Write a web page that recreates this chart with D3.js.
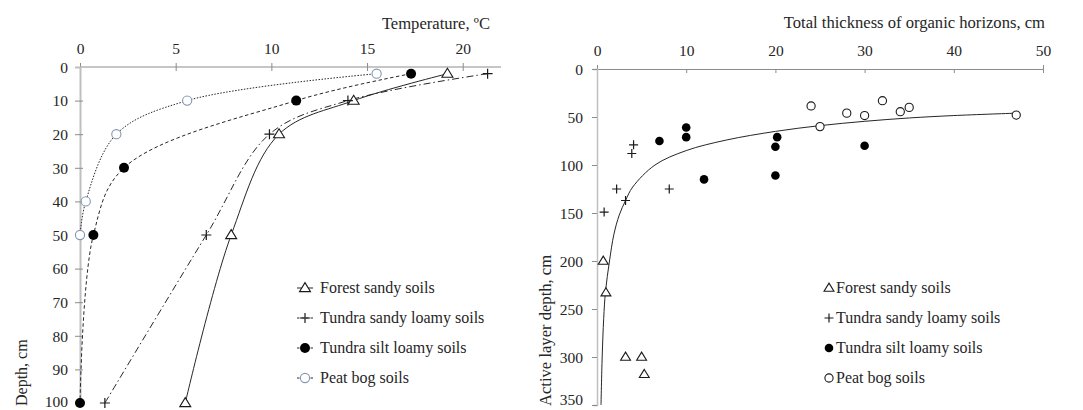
<!DOCTYPE html>
<html>
<head>
<meta charset="utf-8">
<script src="https://cdn.jsdelivr.net/npm/d3@7"></script>
<style>
  body { margin: 0; background: #fff; }
  svg { display: block; font-family: "Liberation Serif", "DejaVu Serif", serif; }
  .tick text { font-family: "Liberation Serif", "DejaVu Serif", serif; font-size: 15.5px; fill: #262626; }
  .lbl { font-size: 16px; fill: #262626; }
  .ttl { font-size: 16.6px; fill: #262626; }
</style>
</head>
<body>
<svg id="chart" width="1083" height="410"></svg>
<script>
// ---- left panel: temperature profiles ----
var tempTicks = [0, 5, 10, 15, 20];
var depthTicks = [0, 10, 20, 30, 40, 50, 60, 70, 80, 90, 100];

var forestDepth = [2, 10, 20, 50, 100];
var forestTemp = [19.2, 14.3, 10.4, 7.9, 5.5];
var sandyDepth = [2, 10, 20, 50, 100];
var sandyTemp = [21.3, 14.0, 9.9, 6.6, 1.3];
var siltDepth = [2, 10, 30, 50, 100];
var siltTemp = [17.3, 11.3, 2.3, 0.7, 0];
var peatDepth = [2, 10, 20, 40, 50];
var peatTemp = [15.5, 5.6, 1.9, 0.3, 0];

var legendNames = ["Forest sandy soils", "Tundra sandy loamy soils", "Tundra silt loamy soils", "Peat bog soils"];

// ---- right panel: organic horizons vs active layer ----
var orgTicks = [0, 10, 20, 30, 40, 50];
var aldTicks = [0, 50, 100, 150, 200, 250, 300, 350];

var forestOrg = [0.7, 1.0, 3.2, 5.0, 5.3];
var forestAld = [200, 233, 300, 300, 318];
var sandyOrg = [4.1, 3.9, 2.2, 8.1, 3.2, 0.8];
var sandyAld = [79, 88, 125, 125, 137, 149];
var siltOrg = [7.0, 10, 10, 12, 20, 20, 20.2, 30];
var siltAld = [75, 71, 61, 115, 111, 81, 71, 80];
var peatOrg = [24, 25, 28, 30, 32, 34, 35, 47];
var peatAld = [38.5, 60, 46, 48.5, 33, 44.5, 40, 48];

// trend line
var trendOrg = [0.45, 0.58, 0.75, 0.95, 1.4, 1.9, 2.5, 3.2, 4.0, 6.5, 10, 14.5, 20, 25, 30, 35, 40, 47];
var trendAld = [350, 300, 260, 232, 200, 172, 152, 137, 123, 100, 85, 74, 65, 59, 54.5, 51, 48.5, 46];

var svg = d3.select("#chart");
var ink = "#1a1a1a";

var zip = function (xs, ys) {
  return xs.map(function (x, i) { return [x, ys[i]]; });
};

var drawMarker = function (g, kind, cx, cy, big) {
  var s = big ? 1 : 0.9;
  if (kind === "tri") {
    var h = 9 * s, w = 11 * s;
    g.append("path")
      .attr("d", "M" + cx + "," + (cy - h * 0.6) + "L" + (cx + w / 2) + "," + (cy + h * 0.4) + "L" + (cx - w / 2) + "," + (cy + h * 0.4) + "Z")
      .attr("fill", "#fff").attr("stroke", ink).attr("stroke-width", 1.1);
  } else if (kind === "plus") {
    var r = 5 * s;
    g.append("path")
      .attr("d", "M" + (cx - r) + "," + cy + "H" + (cx + r) + "M" + cx + "," + (cy - r) + "V" + (cy + r))
      .attr("stroke", ink).attr("stroke-width", 1.2).attr("fill", "none");
  } else if (kind === "dot") {
    g.append("circle").attr("cx", cx).attr("cy", cy).attr("r", big ? 5 : 4.3).attr("fill", "#000");
  } else if (kind === "ring") {
    g.append("circle").attr("cx", cx).attr("cy", cy).attr("r", big ? 4.6 : 4.1)
      .attr("fill", "#fff").attr("stroke", big ? "#8497b0" : ink).attr("stroke-width", 1.1);
  }
};

var styleTop = function (g) {
  g.attr("font-family", null).attr("font-size", null);
  g.select(".domain").attr("stroke", "#8c8c8c").attr("stroke-width", 1);
  g.selectAll(".tick line").attr("stroke", "#8c8c8c").attr("y1", -4).attr("y2", 4);
  g.selectAll(".tick text").attr("y", -13);
};

var styleLeft = function (g, inner, last, lastDy) {
  g.attr("font-family", null).attr("font-size", null);
  g.select(".domain").attr("stroke", "#bfbfbf").attr("stroke-width", 2);
  g.selectAll(".tick line").attr("stroke", "#8c8c8c").attr("x1", inner).attr("x2", -5);
  g.selectAll(".tick text").attr("x", -12)
    .attr("dy", function (d) { return d === last ? lastDy : "0.34em"; });
};

// ================= left panel =================
var xT = d3.scaleLinear().domain([0, 22]).range([80, 501]);
var yT = d3.scaleLinear().domain([0, 100]).range([67, 403]);

var left = svg.append("g");

left.append("g")
    .attr("transform", "translate(0," + yT(0) + ")")
    .call(d3.axisTop(xT).tickValues(tempTicks).tickSizeOuter(0).tickSize(4))
    .call(styleTop)
    .call(function (g) { g.select(".domain").attr("d", "M" + xT(0) + ",0H" + xT(22)); });

left.append("g")
    .attr("transform", "translate(" + xT(0) + ",0)")
    .call(d3.axisLeft(yT).tickValues(depthTicks).tickSizeOuter(0).tickSize(5))
    .call(styleLeft, 3, 100, "0.2em")
    .call(function (g) { g.selectAll(".tick").filter(function (d) { return d === 0; }).select("line").remove(); });

left.append("text").attr("class", "ttl")
    .attr("x", 490).attr("y", 29).attr("text-anchor", "end")
    .text("Temperature, ºC");

left.append("text").attr("class", "lbl")
    .attr("transform", "translate(27,406) rotate(-90)")
    .text("Depth, cm");

var profileLine = d3.line()
    .x(function (d) { return xT(d[0]); })
    .y(function (d) { return yT(d[1]); })
    .curve(d3.curveCatmullRom.alpha(0.5));

var profiles = [
  { temp: forestTemp, depth: forestDepth, kind: "tri", dash: null },
  { temp: sandyTemp, depth: sandyDepth, kind: "plus", dash: "7,3,1.5,3" },
  { temp: siltTemp, depth: siltDepth, kind: "dot", dash: "3.5,2.5" },
  { temp: peatTemp, depth: peatDepth, kind: "ring", dash: "1.5,1.5" }
];

profiles.forEach(function (p) {
  left.append("path")
    .datum(zip(p.temp, p.depth))
    .attr("d", profileLine)
    .attr("fill", "none")
    .attr("stroke", "#262626")
    .attr("stroke-width", 1)
    .attr("stroke-dasharray", p.dash);
});
profiles.forEach(function (p) {
  zip(p.temp, p.depth).forEach(function (d) {
    drawMarker(left, p.kind, xT(d[0]), yT(d[1]), true);
  });
});

var legL = left.append("g");
profiles.forEach(function (p, i) {
  var cy = 288 + i * 30;
  legL.append("line")
    .attr("x1", 297).attr("x2", 313).attr("y1", cy).attr("y2", cy)
    .attr("stroke", "#262626").attr("stroke-width", 1)
    .attr("stroke-dasharray", p.dash ? "2.5,2" : null);
  drawMarker(legL, p.kind, 305, cy, true);
  legL.append("text").attr("class", "lbl")
    .attr("x", 320).attr("y", cy + 5)
    .text(legendNames[i]);
});

// ================= right panel =================
var xO = d3.scaleLinear().domain([0, 50]).range([597, 1043]);
var yO = d3.scaleLinear().domain([0, 350]).range([69, 405]);

var right = svg.append("g");

right.append("g")
    .attr("transform", "translate(0," + yO(0) + ")")
    .call(d3.axisTop(xO).tickValues(orgTicks).tickSizeOuter(0).tickSize(4))
    .call(styleTop)
    .call(function (g) { g.selectAll(".tick line").attr("y1", 0).attr("y2", 4); });

right.append("g")
    .attr("transform", "translate(" + xO(0) + ",0)")
    .call(d3.axisLeft(yO).tickValues(aldTicks).tickSizeOuter(0).tickSize(4))
    .call(styleLeft, 0, 350, "-0.05em")
    .call(function (g) {
      g.select(".domain").attr("stroke-width", 1.5);
      g.selectAll(".tick text").attr("x", -14);
    });

right.append("text").attr("class", "ttl")
    .attr("x", 1045).attr("y", 28).attr("text-anchor", "end")
    .text("Total thickness of organic horizons, cm");

right.append("text").attr("class", "ttl")
    .attr("transform", "translate(551,406) rotate(-90)")
    .text("Active layer depth, cm");

right.append("path")
    .datum(zip(trendOrg, trendAld))
    .attr("d", d3.line()
      .x(function (d) { return xO(d[0]); })
      .y(function (d) { return yO(d[1]); })
      .curve(d3.curveCatmullRom.alpha(0.5)))
    .attr("fill", "none")
    .attr("stroke", "#262626")
    .attr("stroke-width", 1);

var groups = [
  { x: forestOrg, y: forestAld, kind: "tri" },
  { x: sandyOrg, y: sandyAld, kind: "plus" },
  { x: siltOrg, y: siltAld, kind: "dot" },
  { x: peatOrg, y: peatAld, kind: "ring" }
];

groups.forEach(function (gp) {
  zip(gp.x, gp.y).forEach(function (d) {
    drawMarker(right, gp.kind, xO(d[0]), yO(d[1]), false);
  });
});

var legR = right.append("g");
groups.forEach(function (gp, i) {
  var cy = 288 + i * 30;
  drawMarker(legR, gp.kind, 829, cy, false);
  legR.append("text").attr("class", "lbl")
    .attr("x", 836).attr("y", cy + 5)
    .text(legendNames[i]);
});
</script>
</body>
</html>
